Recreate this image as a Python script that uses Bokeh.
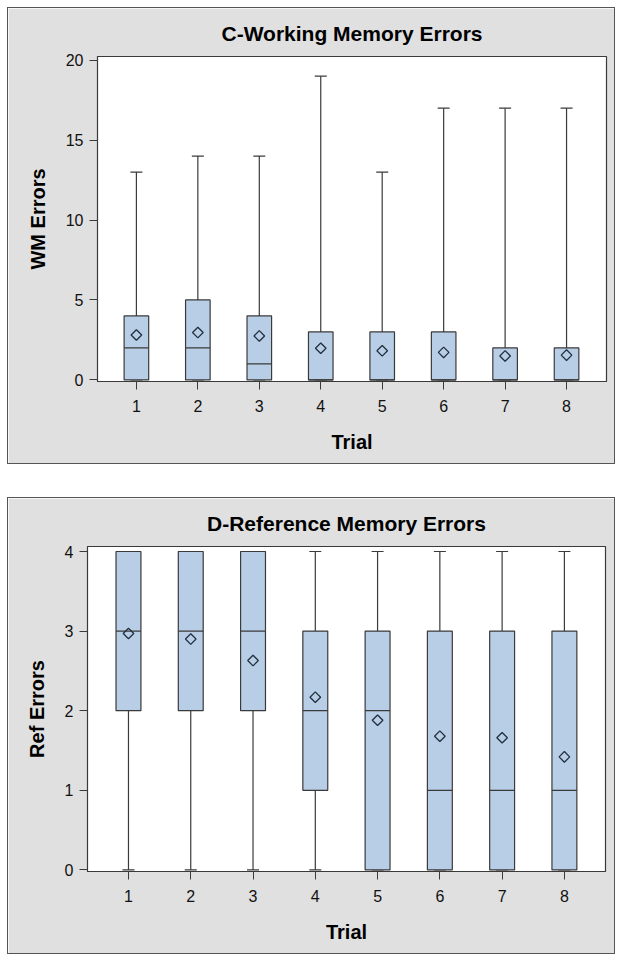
from bokeh.plotting import figure
from bokeh.layouts import column, row
from bokeh.models import (ColumnDataSource, Range1d, FixedTicker, Spacer,
                          Whisker, TeeHead)
from bokeh.embed import file_html
from bokeh.resources import INLINE

# ---------------- data ----------------
trials = [1, 2, 3, 4, 5, 6, 7, 8]
trial_labels = ["1", "2", "3", "4", "5", "6", "7", "8"]

wm_min = [0, 0, 0, 0, 0, 0, 0, 0]
wm_q1 = [0, 0, 0, 0, 0, 0, 0, 0]
wm_median = [2, 2, 1, 0, 0, 0, 0, 0]
wm_q3 = [4, 5, 4, 3, 3, 3, 2, 2]
wm_max = [13, 14, 14, 19, 13, 17, 17, 17]
wm_mean = [2.81, 2.96, 2.75, 1.98, 1.82, 1.72, 1.50, 1.55]
wm_ticks = [0, 5, 10, 15, 20]

ref_min = [0, 0, 0, 0, 0, 0, 0, 0]
ref_q1 = [2, 2, 2, 1, 0, 0, 0, 0]
ref_median = [3, 3, 3, 2, 2, 1, 1, 1]
ref_q3 = [4, 4, 4, 3, 3, 3, 3, 3]
ref_max = [4, 4, 4, 4, 4, 4, 4, 4]
ref_mean = [2.97, 2.90, 2.63, 2.17, 1.88, 1.68, 1.66, 1.42]
ref_ticks = [0, 1, 2, 3, 4]

# ---------------- style ----------------
FONT = "Liberation Sans"
BOX_FILL = "#b8cde6"
DARK = "#3a3a3a"
PANEL = "#e0e0e0"
BOX_W = 0.4


def make_panel(title, ylabel, mins, q1, med, q3, mx, mean, yticks,
               xr, yr, left, right):
    half = BOX_W / 2
    src = ColumnDataSource(dict(
        x=trials, lo=mins, q1=q1, med=med, q3=q3, hi=mx, mean=mean,
        xl=[t - half for t in trials], xr=[t + half for t in trials]))

    p = figure(width=608, height=457, x_range=Range1d(*xr), y_range=Range1d(*yr),
               output_backend="svg", toolbar_location=None,
               min_border_left=left, min_border_right=right,
               min_border_top=0, min_border_bottom=84,
               background_fill_color="white", border_fill_color=PANEL)
    p.styles = {"border": "1px solid #555555"}

    # whiskers
    up = Whisker(source=src, base="x", lower="q3", upper="hi", dimension="height",
                 line_color=DARK, line_width=1.2,
                 upper_head=TeeHead(size=12, line_color=DARK, line_width=1.2),
                 lower_head=None, level="underlay")
    lo = Whisker(source=src, base="x", lower="lo", upper="q1", dimension="height",
                 line_color=DARK, line_width=1.2,
                 lower_head=TeeHead(size=12, line_color=DARK, line_width=1.2),
                 upper_head=None, level="underlay")
    p.add_layout(up)
    p.add_layout(lo)

    # boxes
    p.vbar(x="x", width=BOX_W, bottom="q1", top="q3", source=src,
           fill_color=BOX_FILL, line_color=DARK, line_width=1.2)
    # medians
    p.segment(x0="xl", x1="xr", y0="med", y1="med", source=src,
              line_color=DARK, line_width=1.2)
    # means
    p.scatter(x="x", y="mean", source=src, marker="square", angle=0.785398,
              size=7.5, fill_color=None, line_color="#22303d", line_width=1.3)

    p.title.text = title
    p.title.align = "center"
    p.title.vertical_align = "bottom"
    p.title.text_font = FONT
    p.title.text_font_size = "21px"
    p.title.text_font_style = "bold"
    p.title.text_color = "black"
    p.title.standoff = 23

    p.xaxis.ticker = FixedTicker(ticks=trials)
    p.xaxis.major_label_overrides = {t: s for t, s in zip(trials, trial_labels)}
    p.yaxis.ticker = FixedTicker(ticks=yticks)
    p.xaxis.axis_label = "Trial"
    p.yaxis.axis_label = ylabel
    for ax in (p.xaxis[0], p.yaxis[0]):
        ax.axis_label_text_font = FONT
        ax.axis_label_text_font_size = "20px"
        ax.axis_label_text_font_style = "bold"
        ax.axis_label_text_color = "black"
        ax.axis_label_standoff = 16
        ax.major_label_text_font = FONT
        ax.major_label_text_font_size = "16px"
        ax.major_label_text_color = "#111111"
        ax.major_tick_out = 8
        ax.major_tick_in = 0
        ax.minor_tick_out = 0
        ax.minor_tick_in = 0
        ax.axis_line_color = DARK
        ax.major_tick_line_color = DARK
    p.yaxis.axis_label_standoff = 14
    p.xaxis.major_label_standoff = 10
    p.yaxis.major_label_standoff = 6

    p.xgrid.visible = False
    p.ygrid.visible = False
    p.outline_line_color = DARK
    p.outline_line_width = 1.2
    return p


p1 = make_panel("C-Working Memory Errors", "WM Errors",
                wm_min, wm_q1, wm_median, wm_q3, wm_max, wm_mean, wm_ticks,
                (0.367, 8.65), (-0.1, 20.23), 89, 10)
p2 = make_panel("D-Reference Memory Errors", "Ref Errors",
                ref_min, ref_q1, ref_median, ref_q3, ref_max, ref_mean, ref_ticks,
                (0.342, 8.66), (-0.02, 4.063), 79, 11)

layout = column(Spacer(height=7),
                row(Spacer(width=7), p1),
                Spacer(height=33),
                row(Spacer(width=7), p2))
open("out.html", "w").write(file_html(layout, INLINE))
